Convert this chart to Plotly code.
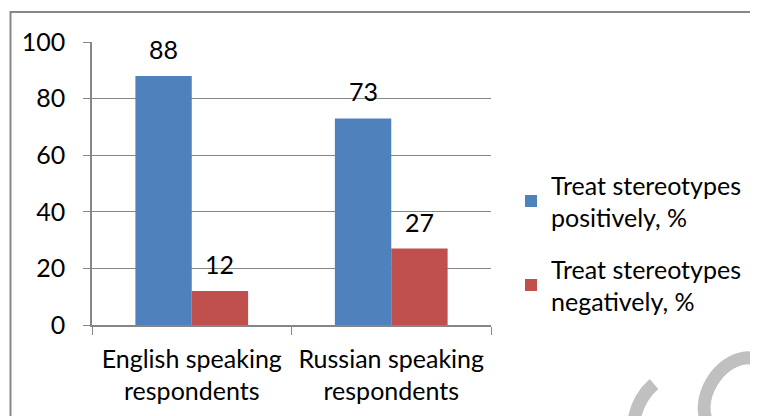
import plotly.graph_objects as go

categories = ["English speaking<br>respondents", "Russian speaking<br>respondents"]
positive = [88, 73]
negative = [12, 27]
series_names = ["Treat stereotypes<br>positively, %", "Treat stereotypes<br>negatively, %"]
y_ticks = [0, 20, 40, 60, 80, 100]

FONT = "Lato"
FS = 25
OFF = 8  # page body margin
W, H = 758 - OFF, 416 - OFF
# plot area in screenshot pixels
L, R, T, B = 92, 491, 42, 325


def px(x):
    return (x - L) / (R - L)


def py(y):
    return (B - y) / (B - T)


fig = go.Figure()
fig.add_trace(go.Bar(x=categories, y=positive, name=series_names[0],
                     marker=dict(color="#4F81BD", line=dict(width=0)),
                     legendgroup="a"))
fig.add_trace(go.Bar(x=categories, y=negative, name=series_names[1],
                     marker=dict(color="#C0504D", line=dict(width=0)),
                     legendgroup="b"))

# data labels
for i, c in enumerate(categories):
    for off, vals in ((-0.1413, positive), (0.1413, negative)):
        fig.add_annotation(x=i + off, y=vals[i], xref="x", yref="y",
                           text=str(vals[i]), showarrow=False,
                           yanchor="bottom", yshift=10,
                           font=dict(family=FONT, size=FS, color="black"))

fig.update_layout(
    width=W, height=H,
    margin=dict(l=L - OFF, r=W - (R - OFF), t=T - OFF, b=H - (B - OFF), autoexpand=False),
    paper_bgcolor="white", plot_bgcolor="white",
    barmode="group", bargap=0.435, bargroupgap=0,
    font=dict(family=FONT, size=FS, color="black"),
    showlegend=True,
    legend=dict(xref="container", yref="container",
                x=(511 - OFF) / W, xanchor="left", y=1 - (162 - OFF) / H, yanchor="top",
                font=dict(family=FONT, size=FS, color="black"),
                tracegroupgap=16, itemwidth=30, bgcolor="rgba(0,0,0,0)"),
    xaxis=dict(type="category", range=[-0.5, 1.5], showline=True,
               linecolor="#868686", linewidth=1.5, ticks="outside",
               tickson="boundaries", ticklen=8, tickcolor="#868686",
               showgrid=False, automargin=False, ticklabelstandoff=11,
               tickfont=dict(family=FONT, size=FS)),
    yaxis=dict(range=[0, 100], tickvals=y_ticks, showline=True,
               linecolor="#868686", linewidth=1.5, ticks="outside",
               ticklen=7, tickcolor="#868686", showgrid=True,
               gridcolor="#868686", gridwidth=1, zeroline=False,
               automargin=False, ticklabelstandoff=13,
               tickfont=dict(family=FONT, size=FS)),
    shapes=[
        dict(type="rect", xref="paper", yref="paper",
             x0=px(10.5), x1=px(790), y0=py(12), y1=py(440),
             line=dict(color="#888888", width=2), layer="below"),
        dict(type="path", xref="paper", yref="paper",
             path=f"M {px(654)},{py(384)} Q {px(638)},{py(398)} {px(634)},{py(420)}",
             line=dict(color="#c0c0c0", width=13)),
        dict(type="path", xref="paper", yref="paper",
             path=(f"M {px(706)},{py(420)} C {px(698)},{py(395)} {px(718)},{py(362)} "
                   f"{px(745)},{py(358)} C {px(760)},{py(356)} {px(765)},{py(372)} {px(760)},{py(385)}"),
             line=dict(color="#c0c0c0", width=13)),
    ],
)

fig.write_html("out.html")
